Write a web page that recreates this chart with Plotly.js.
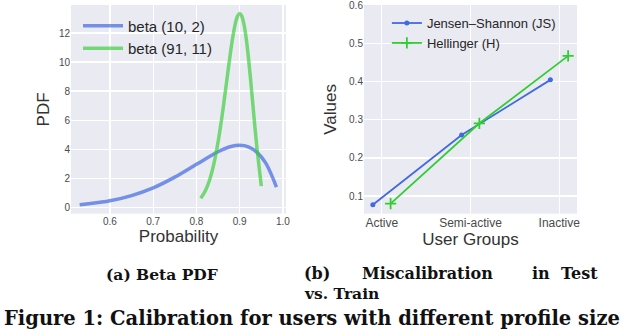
<!DOCTYPE html>
<html>
<head>
<meta charset="utf-8">
<script src="https://cdn.plot.ly/plotly-3.0.1.min.js"></script>
<style>
  html, body { margin: 0; padding: 0; background: #fff; }
  #plot { width: 624px; height: 336px; }
</style>
</head>
<body>
<div id="plot"></div>
<script>
// (a) Beta PDF
var probA = [0.53, 0.55, 0.60, 0.65, 0.70, 0.75, 0.80, 0.85, 0.88, 0.90, 0.92, 0.94, 0.96, 0.985];
var pdfA = [0.17, 0.23, 0.44, 0.80, 1.33, 2.07, 2.95, 3.82, 4.18, 4.26, 4.16, 3.78, 3.05, 1.38];

var probB = [0.81, 0.82, 0.83, 0.84, 0.85, 0.86, 0.865, 0.87, 0.875, 0.88, 0.885, 0.89, 0.895, 0.90,
             0.905, 0.91, 0.915, 0.92, 0.925, 0.93, 0.935, 0.94, 0.945, 0.95];
var pdfB = [0.62, 1.10, 1.84, 2.95, 4.49, 6.45, 7.56, 8.70, 9.85, 10.94, 11.90, 12.67, 13.17, 13.35,
            13.16, 12.58, 11.64, 10.37, 8.85, 7.21, 5.57, 4.04, 2.73, 1.45];

// (b) Miscalibration in Test vs. Train
var groups = ['Active', 'Semi-active', 'Inactive'];
var jsVals = [0.077, 0.260, 0.405];
var hellVals = [0.080, 0.291, 0.468];

var captionA = '(a) Beta PDF';
var captionFig = 'Figure 1: Calibration for users with different profile size';

(function (document, window) {

    var sans = 'Liberation Sans, Arial, sans-serif';
    var serif = 'DejaVu Serif, serif';
    var tickGrey = '#4a4a4a';

    // small dodge so the two series don't sit on the same category
    var dodge = 0.1;
    var idx = groups.map(function (g, i) { return i; });

    var traces = [
        {
            x: probA, y: pdfA, name: 'beta (10, 2)', type: 'scatter', mode: 'lines',
            line: { color: 'rgba(65,105,225,0.7)', width: 3.5, shape: 'spline' },
            xaxis: 'x', yaxis: 'y', legend: 'legend'
        },
        {
            x: probB, y: pdfB, name: 'beta (91, 11)', type: 'scatter', mode: 'lines',
            line: { color: 'rgba(50,205,50,0.65)', width: 3.5, shape: 'spline' },
            xaxis: 'x', yaxis: 'y', legend: 'legend'
        },
        {
            x: idx.map(function (i) { return i - dodge; }), y: jsVals,
            name: 'Jensen–Shannon (JS)', type: 'scatter', mode: 'lines+markers',
            line: { color: '#4169e1', width: 1.8 },
            marker: { symbol: 'circle', size: 5, color: '#4169e1' },
            xaxis: 'x2', yaxis: 'y2', legend: 'legend2'
        },
        {
            x: idx.map(function (i) { return i + dodge; }), y: hellVals,
            name: 'Hellinger (H)', type: 'scatter', mode: 'lines+markers',
            line: { color: '#32cd32', width: 1.8 },
            marker: { symbol: 'cross-thin-open', size: 8, line: { color: '#32cd32', width: 1.8 } },
            xaxis: 'x2', yaxis: 'y2', legend: 'legend2'
        }
    ];

    var axisBase = {
        showgrid: true, gridcolor: '#ffffff', gridwidth: 1.2,
        zeroline: false, showline: false, ticks: '',
        tickfont: { family: sans, size: 10, color: tickGrey }
    };

    function ax(extra) {
        return Object.assign({}, axisBase, extra);
    }

    function caption(text, px, py, anchor, size) {
        return {
            text: '<b>' + text + '</b>', xref: 'paper', yref: 'paper',
            x: px / 624, y: 1 - py / 336, xanchor: anchor, yanchor: 'middle',
            showarrow: false, font: { family: serif, size: size, color: '#111' }
        };
    }

    var layout = {
        width: 624, height: 336,
        margin: { l: 0, r: 0, t: 0, b: 0 },
        paper_bgcolor: '#ffffff',
        plot_bgcolor: '#eaeaf2',
        font: { family: sans, color: '#262626' },
        xaxis: ax({
            domain: [0.1138, 0.4583], range: [0.51, 1.007],
            tickvals: [0.6, 0.7, 0.8, 0.9, 1.0], ticktext: ['0.6', '0.7', '0.8', '0.9', '1.0'],
            anchor: 'y',
            title: { text: 'Probability', font: { family: sans, size: 17, color: '#333' }, standoff: 3 }
        }),
        yaxis: ax({
            domain: [0.364, 0.985], range: [-0.45, 13.93],
            tickvals: [0, 2, 4, 6, 8, 10, 12], anchor: 'x',
            title: { text: 'PDF', font: { family: sans, size: 17, color: '#333' }, standoff: 4 }
        }),
        xaxis2: ax({
            domain: [0.5833, 0.9247], range: [-0.2, 2.2],
            tickvals: idx, ticktext: groups, anchor: 'y2',
            tickfont: { family: sans, size: 12, color: tickGrey },
            title: { text: 'User Groups', font: { family: sans, size: 17, color: '#333' }, standoff: 3 }
        }),
        yaxis2: ax({
            domain: [0.364, 0.985], range: [0.0536, 0.6015],
            tickvals: [0.1, 0.2, 0.3, 0.4, 0.5, 0.6], anchor: 'x2',
            title: { text: 'Values', font: { family: sans, size: 17, color: '#333' }, standoff: 8 }
        }),
        legend: {
            x: 0.125, y: 0.972, xanchor: 'left', yanchor: 'top',
            bgcolor: 'rgba(0,0,0,0)', borderwidth: 0, itemwidth: 40,
            font: { family: sans, size: 15, color: '#262626' }
        },
        legend2: {
            x: 0.62, y: 0.976, xanchor: 'left', yanchor: 'top',
            bgcolor: 'rgba(0,0,0,0)', borderwidth: 0,
            font: { family: sans, size: 13, color: '#262626' }
        },
        annotations: [
            caption(captionA, 162, 274, 'center', 15.5),
            caption('(b)', 302, 273, 'left', 16),
            caption('Miscalibration', 360, 273, 'left', 16),
            caption('in', 530, 273, 'left', 16),
            caption('Test', 600, 273, 'right', 16),
            caption('vs. Train', 302, 293, 'left', 15.5),
            caption(captionFig, 312, 318, 'center', 19.5)
        ]
    };

    Plotly.newPlot('plot', traces, layout, { displayModeBar: false, staticPlot: true });

})(document, window);
</script>
</body>
</html>
